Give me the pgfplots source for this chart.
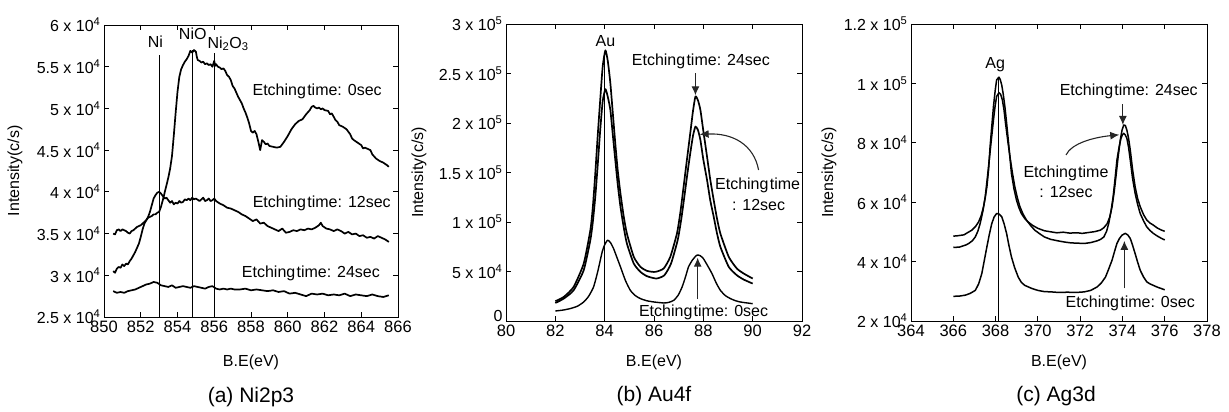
\documentclass[border=0pt]{standalone}
\usepackage{fontspec}
\setmainfont{Liberation Sans}
\usepackage{pgfplots}
\pgfplotsset{compat=1.18}
\usetikzlibrary{arrows.meta}
\pgfplotsset{myax/.style={scale only axis, anchor=south west, clip=false,
  tick align=inside, major tick length=5pt, scaled ticks=false,
  axis line style={line width=0.9pt}, every tick/.style={black, line width=0.8pt},
  font=\fontsize{16}{19}\selectfont,
  xticklabel style={font=\fontsize{16.5}{19}\selectfont},
  ylabel={Intensity(c/s)}, xlabel={B.E(eV)},
  cycle list={{black}},
  every axis plot/.append style={black, line width=1.7pt, no marks, line join=round}}}
\newcommand{\tn}[1]{10\textsuperscript{#1}}
\tikzset{arr/.style={black!85, line width=1.1pt, -{Latex[length=9pt,width=8pt]}}}
\begin{document}
\begin{tikzpicture}
\path[use as bounding box] (0,0) rectangle (1229pt,412pt);
% ---------------- (a) ----------------
\begin{axis}[myax, at={(104pt,95pt)}, width=294pt, height=292pt,
  xmin=850, xmax=866, ymin=25000, ymax=60000,
  xtick={850,852,...,866}, xticklabels={850,852,854,856,858,860,862,864,866},
  ytick={25000,30000,...,60000},
  yticklabels={2.5 x \tn{4},3 x \tn{4},3.5 x \tn{4},4 x \tn{4},4.5 x \tn{4},5 x \tn{4},5.5 x \tn{4},6 x \tn{4}},
  ylabel style={at={(axis description cs:-0.303,0.5)}, anchor=center},
  xlabel style={at={(axis description cs:0.5,-0.154)}, anchor=center}]
\addplot[black] coordinates {(850.5,30500)(850.6,30300)(850.7,30800)(850.8,31000)(850.9,30900)(851.0,31300)(851.1,31100)(851.2,31400)(851.3,31300)(851.4,31700)(851.5,32000)(851.6,32400)(851.7,32800)(851.8,33300)(851.9,33800)(852.0,34600)(852.1,35500)(852.2,36200)(852.3,36600)(852.4,36900)(852.5,37000)(852.6,37100)(852.7,37300)(852.8,37300)(852.9,37500)(853.0,37600)(853.1,38200)(853.2,39000)(853.3,39900)(853.4,40800)(853.5,41700)(853.6,42800)(853.7,44300)(853.8,46800)(853.9,49500)(854.0,52000)(854.1,53800)(854.2,54700)(854.3,55200)(854.4,55600)(854.5,55900)(854.6,56300)(854.7,56900)(854.8,56700)(854.9,57000)(855.0,56800)(855.05,56200)(855.1,55800)(855.2,55700)(855.3,55500)(855.4,55600)(855.5,55300)(855.6,55400)(855.7,55200)(855.8,55300)(855.9,55000)(856.0,55700)(856.05,55100)(856.1,55300)(856.2,55000)(856.3,54900)(856.4,54700)(856.5,54800)(856.6,54500)(856.7,54000)(856.8,53800)(856.9,53400)(857.0,52700)(857.1,52400)(857.2,51900)(857.3,51400)(857.4,51000)(857.5,50600)(857.6,50000)(857.7,49500)(857.8,48900)(857.9,48200)(858.0,47300)(858.1,47100)(858.2,47300)(858.3,46900)(858.4,46000)(858.5,45000)(858.6,46200)(858.7,46000)(858.8,45700)(858.9,45800)(859.0,45500)(859.2,45400)(859.4,45300)(859.6,45400)(859.8,46000)(860.0,46700)(860.2,47500)(860.4,48100)(860.6,48500)(860.8,48700)(861.0,49300)(861.2,49800)(861.3,50200)(861.4,50300)(861.5,50100)(861.6,50000)(861.7,50100)(861.8,49900)(861.9,50000)(862.0,49800)(862.2,49700)(862.3,49300)(862.4,49400)(862.5,49000)(862.6,48600)(862.7,48400)(862.8,48000)(863.0,47800)(863.2,47500)(863.4,46900)(863.5,46400)(863.6,46200)(863.8,45900)(864.0,45600)(864.1,45200)(864.2,45300)(864.4,45100)(864.5,45000)(864.6,44500)(864.8,44000)(865.0,43700)(865.2,43500)(865.4,43200)(865.5,43000)};
\addplot[black] coordinates {(850.5,35000)(850.6,34900)(850.7,35400)(850.8,35500)(850.9,35300)(851.0,35500)(851.1,35400)(851.2,35300)(851.3,35100)(851.4,35000)(851.5,35300)(851.6,35400)(851.7,35600)(851.8,35800)(851.9,35900)(852.0,36000)(852.1,36200)(852.2,36400)(852.3,36600)(852.4,37000)(852.5,37600)(852.6,38400)(852.7,39200)(852.8,39600)(852.9,39900)(853.0,40000)(853.1,39800)(853.2,39500)(853.3,39200)(853.4,39300)(853.5,39000)(853.6,38700)(853.7,38900)(853.8,38500)(853.9,38700)(854.0,38600)(854.1,38900)(854.2,38700)(854.3,38800)(854.4,39100)(854.5,39000)(854.6,39200)(854.7,39000)(854.8,39300)(854.9,39100)(855.0,39200)(855.2,38900)(855.3,39100)(855.4,39300)(855.5,38900)(855.6,39000)(855.7,39200)(855.8,38900)(855.9,39000)(856.0,39200)(856.1,38900)(856.3,38600)(856.5,38400)(856.7,38100)(856.9,38000)(857.1,37800)(857.3,37600)(857.5,37300)(857.7,37100)(857.9,36800)(858.1,36500)(858.3,36700)(858.5,36200)(858.7,36300)(858.9,35900)(859.1,35700)(859.3,35500)(859.5,35300)(859.7,35600)(859.9,35100)(860.1,35200)(860.3,35400)(860.5,35300)(860.7,35500)(860.9,35400)(861.1,35600)(861.3,35500)(861.5,35700)(861.7,36000)(861.8,36300)(861.9,35900)(862.1,35600)(862.3,35500)(862.5,35300)(862.7,35500)(862.9,35300)(863.1,35000)(863.3,35200)(863.5,34900)(863.7,35000)(863.9,34700)(864.1,34800)(864.3,34500)(864.5,34600)(864.7,34400)(864.9,34700)(865.1,34500)(865.3,34300)(865.5,34000)};
\addplot[black] coordinates {(850.5,28100)(850.7,27900)(850.9,28000)(851.1,27900)(851.3,28100)(851.5,28200)(851.7,28300)(851.9,28500)(852.1,28700)(852.3,28900)(852.5,29000)(852.7,29200)(852.9,29100)(853.1,28800)(853.3,28700)(853.5,28600)(853.7,28800)(853.9,28500)(854.1,28600)(854.3,28700)(854.5,28600)(854.7,28500)(854.9,28700)(855.1,28600)(855.3,28500)(855.5,28400)(855.7,28600)(855.9,28700)(856.1,28400)(856.3,28300)(856.5,28400)(856.7,28300)(856.9,28400)(857.1,28300)(857.4,28300)(857.7,28400)(858.0,28200)(858.3,28300)(858.6,28200)(858.9,28100)(859.2,28200)(859.5,28000)(859.8,28100)(860.1,27800)(860.4,27900)(860.7,27700)(861.0,27500)(861.3,27800)(861.6,27700)(861.9,27800)(862.2,27600)(862.5,27700)(862.8,27600)(863.1,27800)(863.4,27500)(863.7,27700)(864.0,27600)(864.3,27500)(864.6,27700)(864.9,27500)(865.2,27400)(865.5,27600)};
\addplot[black, line width=1pt] coordinates {(853,25000)(853,56400)};
\addplot[black, line width=1pt] coordinates {(854.8,25000)(854.8,57000)};
\addplot[black, line width=1pt] coordinates {(856,25000)(856,56600)};
\node at (axis cs:852.8,58000) {Ni};
\node at (axis cs:854.83,58930) {NiO};
\node at (axis cs:856.75,57740) {Ni\textsubscript{2}O\textsubscript{3}};
\node at (axis cs:861.6,52090) {Etching\hspace{0.08em}time: 0sec};
\node at (axis cs:861.85,38640) {Etching\hspace{0.08em}time: 12sec};
\node at (axis cs:861.26,30290) {Etching\hspace{0.08em}time: 24sec};
\node[font=\fontsize{21}{24}\selectfont] at (axis description cs:0.5,-0.274) {(a) Ni2p3};
\end{axis}
% ---------------- (b) ----------------
\begin{axis}[myax, at={(506pt,91pt)}, width=296pt, height=297pt,
  xmin=80, xmax=92, ymin=0, ymax=300000,
  xtick={80,82,...,92}, xticklabels={80,82,84,86,88,90,92},
  ytick={0,50000,...,300000},
  yticklabels={\raisebox{5pt}[0.72em][0pt]{0},5 x \tn{4},1 x \tn{5},1.5 x \tn{5},2 x \tn{5},2.5 x \tn{5},3 x \tn{5}},
  ylabel style={at={(axis description cs:-0.294,0.5)}, anchor=center},
  xlabel style={at={(axis description cs:0.5,-0.138)}, anchor=center}]
\addplot[black, smooth, tension=0.35] coordinates {(82.0,20000)(82.34,24300)(82.74,34400)(83.15,58000)(83.42,91800)(83.52,115000)(83.62,149200)(83.72,188000)(83.82,223400)(83.92,257000)(84.03,273400)(84.13,262000)(84.23,240300)(84.33,210000)(84.43,179500)(84.53,152000)(84.64,128900)(84.77,106000)(84.9,88400)(85.18,64800)(85.45,54700)(85.72,50600)(86.05,49600)(86.39,53000)(86.66,64800)(86.93,88400)(87.07,110000)(87.2,135700)(87.34,164000)(87.47,189700)(87.58,212000)(87.68,226800)(87.78,223000)(87.88,213300)(88.0,192000)(88.15,166000)(88.28,143000)(88.42,122200)(88.55,104000)(88.69,88400)(89.03,64800)(89.36,53000)(89.64,47900)(90.0,42900)};
\addplot[black, smooth, tension=0.35] coordinates {(82.0,18200)(82.34,22600)(82.74,31000)(83.15,51300)(83.42,81700)(83.52,100000)(83.62,125500)(83.72,158000)(83.82,193000)(83.92,222000)(84.03,234200)(84.13,226000)(84.23,213300)(84.33,188000)(84.43,162700)(84.53,138000)(84.64,115400)(84.77,95000)(84.9,78300)(85.18,58000)(85.45,49600)(85.72,45200)(86.1,42900)(86.42,46200)(86.69,58000)(86.96,81700)(87.1,102000)(87.23,125500)(87.36,150000)(87.47,169400)(87.58,187000)(87.68,196400)(87.78,193000)(87.88,182900)(88.0,163000)(88.15,142400)(88.28,122000)(88.42,105300)(88.55,89000)(88.69,74900)(89.03,54700)(89.36,46200)(89.64,41800)(90.0,37800)};
\addplot[black, smooth, tension=0.35, line width=1.4pt] coordinates {(82.0,10100)(82.3,11000)(82.6,12500)(82.9,15000)(83.15,19200)(83.35,25000)(83.55,34400)(83.72,50000)(83.9,69900)(84.0,77000)(84.12,81700)(84.24,79000)(84.36,73200)(84.5,64000)(84.64,54700)(84.84,41000)(85.04,31000)(85.25,25500)(85.45,22600)(85.7,20500)(86.0,19200)(86.4,18200)(86.6,18800)(86.8,20900)(86.98,26000)(87.14,34400)(87.27,44000)(87.4,54700)(87.57,62000)(87.74,66500)(87.87,66000)(88.0,63100)(88.17,56000)(88.35,47900)(88.52,38500)(88.69,31000)(88.9,25500)(89.1,22600)(89.3,20500)(89.5,19200)(89.75,18300)(90.0,17500)};
\addplot[black, line width=1pt] coordinates {(84,0)(84,270000)};
\node at (axis cs:84.03,283000) {Au};
\node at (axis cs:87.9,262200) {Etching\hspace{0.08em}time: 24sec};
\draw[arr] (axis cs:87.68,250000) -- (axis cs:87.68,228000);
\node at (axis cs:90.2,137400) {Etching\hspace{0.08em}time};
\node at (axis cs:90.24,117100) {: 12sec};
\draw[arr] (axis cs:90.24,152500) .. controls (axis cs:90.05,178000) and (axis cs:89.2,190000) .. (axis cs:87.85,188500);
\node at (axis cs:88.01,9100) {Etching\hspace{0.08em}time: 0sec};
\draw[arr] (axis cs:87.77,22000) -- (axis cs:87.77,64000);
\node[font=\fontsize{21}{24}\selectfont] at (axis description cs:0.5,-0.2525) {(b) Au4f};
\end{axis}
% ---------------- (c) ----------------
\begin{axis}[myax, at={(911pt,91pt)}, width=296pt, height=297pt,
  xmin=364, xmax=378, ymin=20000, ymax=120000,
  xtick={364,366,...,378}, xticklabels={364,366,368,370,372,374,376,378},
  ytick={20000,40000,...,120000},
  yticklabels={2 x \tn{4},4 x \tn{4},6 x \tn{4},8 x \tn{4},1 x \tn{5},1.2 x \tn{5}},
  ylabel style={at={(axis description cs:-0.277,0.5)}, anchor=center},
  xlabel style={at={(axis description cs:0.5,-0.138)}, anchor=center}]
\addplot[black, line width=1.5pt] coordinates {(366.0,48570)(366.2,48700)(366.5,49000)(366.88,50600)(367.05,51800)(367.2,53400)(367.32,55500)(367.43,58470)(367.51,61500)(367.59,65220)(367.67,71000)(367.74,78700)(367.82,85500)(367.9,92200)(367.98,97500)(368.05,101200)(368.16,102100)(368.22,101300)(368.29,99500)(368.36,96500)(368.44,92200)(368.52,86800)(368.6,81000)(368.68,75000)(368.75,69700)(368.87,64500)(368.99,60700)(369.1,58200)(369.22,56200)(369.38,54500)(369.53,53400)(369.75,52200)(370.0,51200)(370.3,50400)(370.63,50000)(370.9,49700)(371.2,49900)(371.5,49600)(371.87,49700)(372.1,49500)(372.4,49800)(372.7,50100)(372.96,50600)(373.12,51400)(373.28,52800)(373.4,55000)(373.51,58500)(373.61,63500)(373.71,69700)(373.8,75500)(373.9,81000)(373.98,84200)(374.06,86000)(374.14,85800)(374.21,84300)(374.29,81500)(374.37,77600)(374.48,71000)(374.6,65200)(374.72,61200)(374.84,58500)(375.0,55800)(375.15,54000)(375.3,53000)(375.46,52300)(375.65,51300)(375.85,50600)(376.0,50200)};
\addplot[black, line width=1.5pt] coordinates {(366.0,44750)(366.3,44900)(366.6,45600)(366.73,46100)(366.9,47000)(367.04,48300)(367.16,50200)(367.27,52800)(367.4,57000)(367.51,61800)(367.6,67500)(367.7,74200)(367.8,81000)(367.9,87700)(367.98,92500)(368.05,95600)(368.16,96900)(368.24,96300)(368.32,94500)(368.4,91000)(368.47,86600)(368.58,80500)(368.68,75300)(368.8,69700)(368.91,65200)(369.03,61500)(369.15,58500)(369.3,56000)(369.46,54000)(369.65,52200)(369.85,50600)(370.1,49300)(370.31,48300)(370.6,47500)(370.94,47000)(371.25,46600)(371.56,46300)(371.9,46200)(372.19,46100)(372.5,46400)(372.81,47000)(372.97,47500)(373.12,48300)(373.25,50200)(373.35,52800)(373.46,57000)(373.56,61800)(373.65,67800)(373.74,74200)(373.84,78500)(373.93,81500)(374.0,82700)(374.06,83200)(374.13,82700)(374.21,81500)(374.29,78500)(374.37,74200)(374.48,68000)(374.6,63000)(374.72,59200)(374.84,56200)(375.0,53700)(375.15,51700)(375.3,50500)(375.46,49500)(375.65,48600)(375.85,47800)(376.0,47300)};
\addplot[black, line width=1.5pt] coordinates {(366.0,28300)(366.3,28400)(366.57,28700)(366.8,29300)(367.04,30300)(367.2,32500)(367.35,36000)(367.47,40500)(367.59,45000)(367.7,49000)(367.82,52800)(367.93,55000)(368.05,56200)(368.17,56000)(368.29,55100)(368.4,52800)(368.52,49500)(368.63,45500)(368.75,41600)(368.9,38000)(369.07,34800)(369.22,33000)(369.38,32000)(369.7,31000)(370.0,30300)(370.3,29900)(370.63,29800)(371.0,29600)(371.4,29700)(371.8,29600)(372.19,29800)(372.5,30300)(372.81,31500)(373.0,32800)(373.2,34800)(373.35,37500)(373.51,40500)(373.63,43500)(373.74,46100)(373.86,47800)(373.98,48900)(374.13,49500)(374.25,49000)(374.37,47800)(374.48,45500)(374.6,42700)(374.72,39800)(374.84,37100)(375.0,34800)(375.15,33200)(375.3,32500)(375.46,32000)(375.65,31400)(375.85,30900)(376.0,30500)};
\addplot[black, line width=1pt] coordinates {(368.15,20000)(368.15,102300)};
\node at (axis cs:367.98,106300) {Ag};
\node at (axis cs:374.3,97300) {Etching\hspace{0.08em}time: 24sec};
\draw[arr] (axis cs:374.02,93000) -- (axis cs:374.02,86000);
\node at (axis cs:371.33,69700) {Etching\hspace{0.08em}time};
\node at (axis cs:371.33,63500) {: 12sec};
\draw[arr] (axis cs:371.33,75900) .. controls (axis cs:371.6,79800) and (axis cs:372.6,81800) .. (axis cs:373.85,82700);
\node at (axis cs:374.37,25800) {Etching\hspace{0.08em}time: 0sec};
\draw[arr] (axis cs:374.09,31000) -- (axis cs:374.09,47000);
\node[font=\fontsize{21}{24}\selectfont] at (axis description cs:0.49,-0.2525) {(c) Ag3d};
\end{axis}
\end{tikzpicture}
\end{document}
